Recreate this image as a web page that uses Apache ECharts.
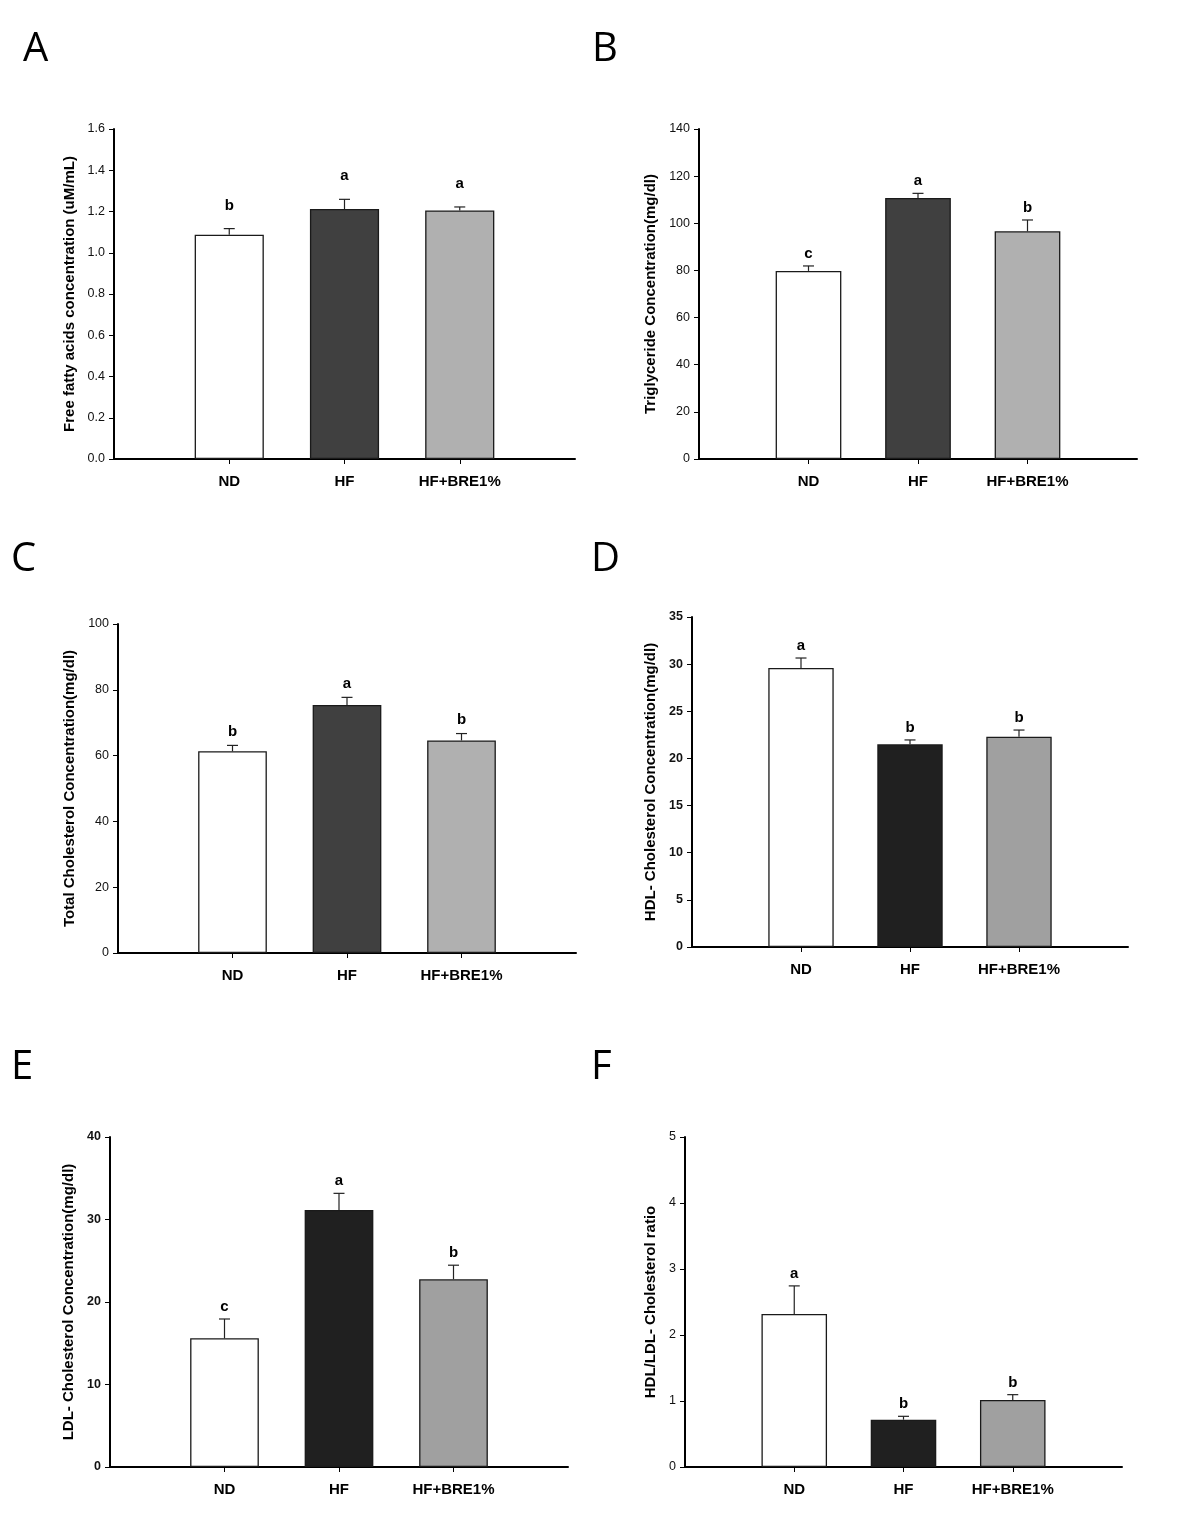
<!DOCTYPE html>
<html>
<head>
<meta charset="utf-8">
<script src="https://cdn.jsdelivr.net/npm/echarts@6/dist/echarts.min.js"></script>
<style>
  html, body { margin: 0; padding: 0; background: #fff; }
  #chart { width: 1200px; height: 1518px; }
</style>
</head>
<body>
<div id="chart"></div>
<script>
// ---------------- data ----------------
const categories = ['ND', 'HF', 'HF+BRE1%'];

const ffaMean = [1.087, 1.212, 1.205];
const ffaErr = [0.030, 0.047, 0.017];
const ffaLetters = ['b', 'a', 'a'];
const ffaTicks = [0.0, 0.2, 0.4, 0.6, 0.8, 1.0, 1.2, 1.4, 1.6];

const tgMean = [79.8, 110.7, 96.6];
const tgErr = [2.1, 2.0, 4.8];
const tgLetters = ['c', 'a', 'b'];
const tgTicks = [0, 20, 40, 60, 80, 100, 120, 140];

const tcMean = [61.3, 75.4, 64.6];
const tcErr = [1.8, 2.3, 2.1];
const tcLetters = ['b', 'a', 'b'];
const tcTicks = [0, 20, 40, 60, 80, 100];

const hdlMean = [29.6, 21.5, 22.3];
const hdlErr = [1.05, 0.46, 0.71];
const hdlLetters = ['a', 'b', 'b'];
const hdlTicks = [0, 5, 10, 15, 20, 25, 30, 35];

const ldlMean = [15.6, 31.15, 22.76];
const ldlErr = [2.34, 2.02, 1.70];
const ldlLetters = ['c', 'a', 'b'];
const ldlTicks = [0, 10, 20, 30, 40];

const ratioMean = [2.32, 0.717, 1.015];
const ratioErr = [0.424, 0.051, 0.081];
const ratioLetters = ['a', 'b', 'b'];
const ratioTicks = [0, 1, 2, 3, 4, 5];

// ---------------- layout / styles ----------------
const FONT = '"Liberation Sans", Arial, sans-serif';
const colorsTop = ['#ffffff', '#404040', '#b0b0b0'];
const colorsBottom = ['#ffffff', '#202020', '#a0a0a0'];

const panels = [
  { tag: 'A', tagX: 23, tagY: 50, mean: ffaMean, err: ffaErr, letters: ffaLetters, ticks: ffaTicks, dec: 1,
    name: 'Free fatty acids concentration (uM/mL)', grid: { left: 114, top: 129, width: 461, height: 330 },
    colors: colorsTop, boldTicks: false, nameGap: 37, letterOff: 23 },
  { tag: 'B', tagX: 592, tagY: 50, mean: tgMean, err: tgErr, letters: tgLetters, ticks: tgTicks, dec: 0,
    name: 'Triglyceride Concentration(mg/dl)', grid: { left: 699, top: 129, width: 438, height: 330 },
    colors: colorsTop, boldTicks: false, nameGap: 41, letterOff: 12 },
  { tag: 'C', tagX: 11, tagY: 560, mean: tcMean, err: tcErr, letters: tcLetters, ticks: tcTicks, dec: 0,
    name: 'Total Cholesterol Concentration(mg/dl)', grid: { left: 118, top: 624, width: 458, height: 329 },
    colors: colorsTop, boldTicks: false, nameGap: 41, letterOff: 14 },
  { tag: 'D', tagX: 591, tagY: 560, mean: hdlMean, err: hdlErr, letters: hdlLetters, ticks: hdlTicks, dec: 0,
    name: 'HDL- Cholesterol Concentration(mg/dl)', grid: { left: 692, top: 617, width: 436, height: 330 },
    colors: colorsBottom, boldTicks: true, nameGap: 34, letterOff: 12 },
  { tag: 'E', tagX: 11, tagY: 1068, mean: ldlMean, err: ldlErr, letters: ldlLetters, ticks: ldlTicks, dec: 0,
    name: 'LDL- Cholesterol Concentration(mg/dl)', grid: { left: 110, top: 1137, width: 458, height: 330 },
    colors: colorsBottom, boldTicks: true, nameGap: 34, letterOff: 12 },
  { tag: 'F', tagX: 591, tagY: 1068, mean: ratioMean, err: ratioErr, letters: ratioLetters, ticks: ratioTicks, dec: 0,
    name: 'HDL/LDL- Cholesterol ratio', grid: { left: 685, top: 1137, width: 437, height: 330 },
    colors: colorsBottom, boldTicks: false, nameGap: 27, letterOff: 12 }
];

const axisCats = [''].concat(categories, ['']);

const grids = [], xAxes = [], yAxes = [], series = [], graphics = [];

panels.forEach((p, i) => {
  grids.push(Object.assign({ containLabel: false }, p.grid));
  xAxes.push({
    type: 'category', gridIndex: i, data: axisCats, boundaryGap: false,
    axisLine: { show: true, onZero: true, lineStyle: { color: '#000', width: 2 } },
    axisTick: { show: true, length: 5, interval: (idx) => idx >= 1 && idx <= categories.length,
      lineStyle: { color: '#000', width: 1 } },
    axisLabel: { interval: 0, margin: 15, color: '#000', fontSize: 15, fontWeight: 'bold', fontFamily: FONT },
    splitLine: { show: false }
  });
  const t = p.ticks;
  yAxes.push({
    type: 'value', gridIndex: i, min: t[0], max: t[t.length - 1], interval: t[1] - t[0],
    name: p.name, nameLocation: 'middle', nameGap: p.nameGap,
    nameTextStyle: { color: '#000', fontSize: 15, fontWeight: 'bold', fontFamily: FONT },
    axisLine: { show: true, lineStyle: { color: '#000', width: 2 } },
    axisTick: { show: true, length: 5, lineStyle: { color: '#000', width: 1 } },
    axisLabel: { margin: 9, color: '#111', fontSize: 12.5, fontFamily: FONT,
      fontWeight: p.boldTicks ? 'bold' : 'normal',
      formatter: (v) => Number(v).toFixed(p.dec) },
    splitLine: { show: false }
  });
  series.push({
    type: 'bar', xAxisIndex: i, yAxisIndex: i, barWidth: '60%',
    data: [null].concat(p.mean.map((v, k) => ({
      value: v, itemStyle: { color: p.colors[k], borderColor: '#1a1a1a', borderWidth: 1.3 }
    })), [null]),
    silent: true, animation: false
  });
  series.push({
    type: 'custom', xAxisIndex: i, yAxisIndex: i, silent: true, animation: false, z: 5,
    data: p.mean.map((v, k) => [k + 1, v, p.err[k]]),
    renderItem: (params, api) => {
      const x = api.value(0), v = api.value(1), e = api.value(2);
      const p0 = api.coord([x, v]);
      const p1 = api.coord([x, v + e]);
      const half = 5.5;
      const stroke = { stroke: '#222', lineWidth: 1.2 };
      return {
        type: 'group',
        children: [
          { type: 'line', shape: { x1: p0[0], y1: p0[1], x2: p1[0], y2: p1[1] }, style: stroke },
          { type: 'line', shape: { x1: p1[0] - half, y1: p1[1], x2: p1[0] + half, y2: p1[1] }, style: stroke },
          { type: 'text', style: {
              text: p.letters[params.dataIndex], x: p1[0], y: p1[1] - p.letterOff,
              align: 'center', verticalAlign: 'middle',
              font: 'bold 15px ' + FONT, fill: '#000' } }
        ]
      };
    }
  });
  graphics.push({
    type: 'text', x: p.tagX, y: p.tagY,
    style: { text: p.tag, font: '40px "Open Sans", sans-serif', fill: '#000', verticalAlign: 'middle', align: 'left' }
  });
});

const chart = echarts.init(document.getElementById('chart'), null, { renderer: 'canvas' });
chart.setOption({
  backgroundColor: '#ffffff',
  animation: false,
  grid: grids,
  xAxis: xAxes,
  yAxis: yAxes,
  series: series,
  graphic: graphics
});
</script>
</body>
</html>
